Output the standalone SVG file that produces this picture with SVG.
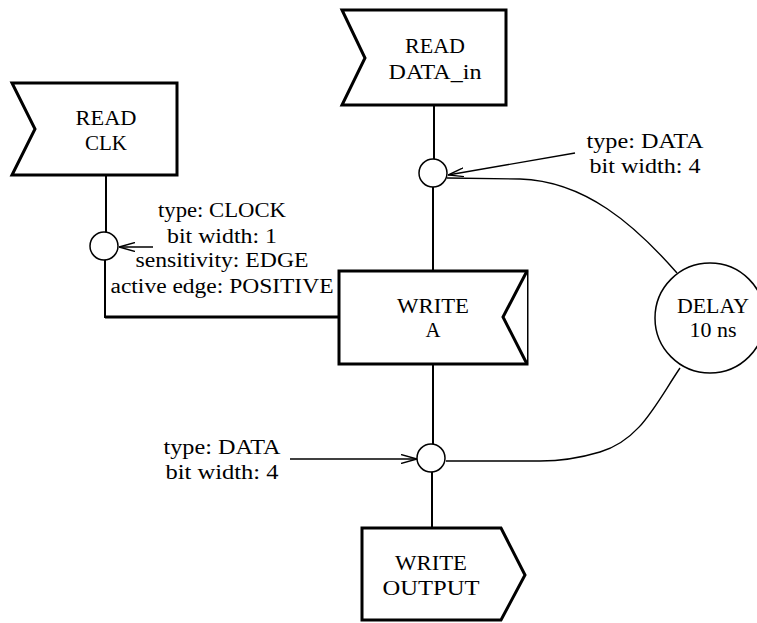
<svg xmlns="http://www.w3.org/2000/svg" width="757" height="623" viewBox="0 0 757 623">
<style>
.box{fill:#fff;stroke:#000;stroke-width:3;stroke-linejoin:miter}
.port{fill:#fff;stroke:#000;stroke-width:1.5}
.wire{fill:none;stroke:#000;stroke-width:2}
.thin{fill:none;stroke:#000;stroke-width:1.4}
text{font-family:"Liberation Serif","Times New Roman",serif;font-size:20px;fill:#000;text-anchor:middle}
</style>
<defs>
<marker id="arr" viewBox="0 0 16 10" refX="16" refY="5" markerWidth="16" markerHeight="10" markerUnits="userSpaceOnUse" orient="auto">
<path d="M0,0.5 L16,5 L0,9.5" fill="none" stroke="#000" stroke-width="1.4"/>
</marker>
</defs>
<g id="connectors">
<path class="wire" d="M106,175 V233"/>
<path class="wire" d="M105,260 V317 H340" />
<path d="M105,317 H340" fill="none" stroke="#000" stroke-width="3"/>
<path class="wire" d="M434,106 V159"/>
<path class="wire" d="M433,187 V271"/>
<path class="wire" d="M433,364 V444"/>
<path class="wire" d="M432,472 V528"/>
<path class="thin" d="M447,178 L520,179 C585,181 635,225 677,273"/>
<path class="thin" d="M680,368 C655,405 640,440 600,452 C580,458 560,461 540,461 L446,461"/>
<path class="thin" d="M153,247 L119,247" marker-end="url(#arr)"/>
<path class="thin" d="M575,153 L448,175" marker-end="url(#arr)"/>
<path class="thin" d="M290,459 L417,459" marker-end="url(#arr)"/>
</g>
<g id="read-clk">
<path class="box" d="M12,83 H177 V175 H12 L35,129 Z"/>
<text x="106" y="125" textLength="61" lengthAdjust="spacingAndGlyphs">READ</text>
<text x="106" y="150" textLength="42" lengthAdjust="spacingAndGlyphs">CLK</text>
</g>
<g id="read-data-in">
<path class="box" d="M342,10 H506 V105 H342 L365,58 Z"/>
<text x="435" y="53" textLength="60" lengthAdjust="spacingAndGlyphs">READ</text>
<text x="435" y="79" textLength="93" lengthAdjust="spacingAndGlyphs">DATA_in</text>
</g>
<g id="write-a">
<path class="box" d="M339,271 H527 V364 H339 Z"/>
<path class="box" d="M527,271 L503,317 L527,364" fill="none"/>
<text x="433" y="313" textLength="72" lengthAdjust="spacingAndGlyphs">WRITE</text>
<text x="433" y="337" textLength="15" lengthAdjust="spacingAndGlyphs">A</text>
</g>
<g id="write-output">
<path class="box" d="M362,528 H501 L525,575 L501,620 H362 Z"/>
<text x="431" y="570" textLength="72" lengthAdjust="spacingAndGlyphs">WRITE</text>
<text x="431" y="595" textLength="97" lengthAdjust="spacingAndGlyphs">OUTPUT</text>
</g>
<g id="delay">
<circle class="port" cx="710" cy="318" r="55"/>
<text x="713" y="313" textLength="72" lengthAdjust="spacingAndGlyphs">DELAY</text>
<text x="713" y="337" textLength="47" lengthAdjust="spacingAndGlyphs">10 ns</text>
</g>
<g id="port-clk">
<circle class="port" cx="104" cy="246" r="14"/>
<text x="222" y="217" textLength="128" lengthAdjust="spacingAndGlyphs">type: CLOCK</text>
<text x="222" y="243" textLength="110" lengthAdjust="spacingAndGlyphs">bit width: 1</text>
<text x="222" y="267" textLength="173" lengthAdjust="spacingAndGlyphs">sensitivity: EDGE</text>
<text x="222" y="293" textLength="223" lengthAdjust="spacingAndGlyphs">active edge: POSITIVE</text>
</g>
<g id="port-data-in">
<circle class="port" cx="433" cy="173" r="14"/>
<text x="645" y="148" textLength="117" lengthAdjust="spacingAndGlyphs">type: DATA</text>
<text x="645" y="173" textLength="111" lengthAdjust="spacingAndGlyphs">bit width: 4</text>
</g>
<g id="port-out">
<circle class="port" cx="431" cy="458" r="14"/>
<text x="222" y="454" textLength="117" lengthAdjust="spacingAndGlyphs">type: DATA</text>
<text x="222" y="479" textLength="113" lengthAdjust="spacingAndGlyphs">bit width: 4</text>
</g>
</svg>
